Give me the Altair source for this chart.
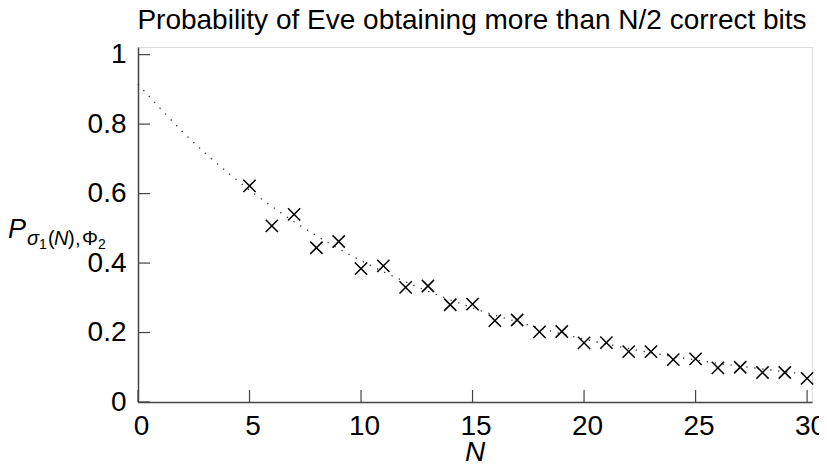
import altair as alt
import pandas as pd

# Marker data (N, probability)
n_points = [5, 6, 7, 8, 9, 10, 11, 12, 13, 14, 15, 16, 17, 18, 19, 20,
            21, 22, 23, 24, 25, 26, 27, 28, 29, 30]
p_points = [0.622, 0.507, 0.540, 0.444, 0.462, 0.384, 0.392, 0.330, 0.334,
            0.280, 0.282, 0.234, 0.236, 0.202, 0.203, 0.170, 0.171, 0.145,
            0.145, 0.122, 0.124, 0.098, 0.100, 0.085, 0.085, 0.068]

# Dotted fit curve
n_curve = [0, 1, 2, 3, 4, 5, 6, 7, 8, 9, 10, 11, 12, 13, 14, 15, 16, 17, 18,
           19, 20, 21, 22, 23, 24, 25, 26, 27, 28, 29, 30]
p_curve = [0.915, 0.845, 0.778, 0.717, 0.662, 0.610, 0.563, 0.519, 0.479,
           0.441, 0.407, 0.375, 0.346, 0.319, 0.294, 0.271, 0.250, 0.231,
           0.213, 0.196, 0.181, 0.167, 0.154, 0.142, 0.131, 0.121, 0.111,
           0.103, 0.095, 0.087, 0.080]

x_ticks = [0, 5, 10, 15, 20, 25, 30]
y_ticks = [0, 0.2, 0.4, 0.6, 0.8, 1]

title_text = "Probability of Eve obtaining more than N/2 correct bits"
x_title = "N"

W, H = 674, 355
FONT = "Liberation Sans"
AX = "#444444"

pts = pd.DataFrame({"N": n_points, "P": p_points})
crv = pd.DataFrame({"N": n_curve, "P": p_curve})
xt = pd.DataFrame({"v": x_ticks})
yt = pd.DataFrame({"v": y_ticks})

xs = alt.Scale(domain=[0, 30.22], nice=False, zero=False)
ys = alt.Scale(domain=[0, 1.022], nice=False, zero=False)

x_axis = alt.Axis(values=x_ticks, ticks=False, grid=False, title=None,
                  labelFont=FONT, labelFontSize=28, labelColor="black",
                  labelPadding=10, labelFlush=False, labelOffset=3,
                  domainColor=AX, domainWidth=1.5, format="d")
y_axis = alt.Axis(values=y_ticks, ticks=False, grid=False, title=None,
                  labelFont=FONT, labelFontSize=28, labelColor="black",
                  labelPadding=12, labelFlush=False, labelBaseline="middle",
                  domainColor=AX, domainWidth=1.5, format=".1~f")

curve = alt.Chart(crv).mark_line(
    color="#333333", strokeWidth=1.3, strokeDash=[1.3, 6.7], interpolate="monotone"
).encode(
    x=alt.X("N:Q", scale=xs, axis=x_axis),
    y=alt.Y("P:Q", scale=ys, axis=y_axis),
)

marks = alt.Chart(pts).mark_point(
    shape="M-1,-1L1,1M-1,1L1,-1", filled=False, color="black",
    strokeWidth=1.5, size=150, opacity=1
).encode(x=alt.X("N:Q", scale=xs), y=alt.Y("P:Q", scale=ys))

xtick = alt.Chart(xt).mark_rule(color=AX, strokeWidth=1.2).encode(
    x=alt.X("v:Q", scale=xs), y=alt.value(H), y2=alt.value(H - 12))
ytick = alt.Chart(yt).mark_rule(color=AX, strokeWidth=1.2).encode(
    y=alt.Y("v:Q", scale=ys), x=alt.value(0), x2=alt.value(12))

title = alt.Chart(pd.DataFrame({"t": [title_text]})).mark_text(
    font=FONT, fontSize=28, align="center", baseline="alphabetic", color="black"
).encode(text="t:N", x=alt.value(W / 2 - 3), y=alt.value(-18))

xlab = alt.Chart(pd.DataFrame({"t": [x_title]})).mark_text(
    font=FONT, fontSize=28, fontStyle="italic", align="center",
    baseline="alphabetic", color="black"
).encode(text="t:N", x=alt.value(W / 2), y=alt.value(414))

# y label pieces: P_{sigma_1(N),Phi_2}
pieces = [
    ("P", -130, 191, 27, "italic"),
    ("σ", -111, 198, 20, "italic"),
    ("1", -99, 202, 14, "normal"),
    ("(", -90, 198, 20, "normal"),
    ("N", -84, 198, 20, "italic"),
    (")", -70, 198, 20, "normal"),
    (",", -63, 198, 20, "normal"),
    ("Φ", -56, 198, 20, "normal"),
    ("2", -40, 202, 14, "normal"),
]
ylab_layers = []
for txt, px, py, fs, st in pieces:
    ylab_layers.append(
        alt.Chart(pd.DataFrame({"t": [txt]})).mark_text(
            font=FONT, fontSize=fs, fontStyle=st, align="left",
            baseline="alphabetic", color="black"
        ).encode(text="t:N", x=alt.value(px), y=alt.value(py))
    )

chart = alt.layer(curve, marks, xtick, ytick, title, xlab, *ylab_layers).properties(
    width=W, height=H,
    autosize=alt.AutoSizeParams(type="none"),
    padding={"left": 130, "top": 39, "right": 7, "bottom": 59},
).configure_view(stroke=None).configure(background="white")

chart.save("out.html", embed_options={"renderer": "svg", "actions": False})
